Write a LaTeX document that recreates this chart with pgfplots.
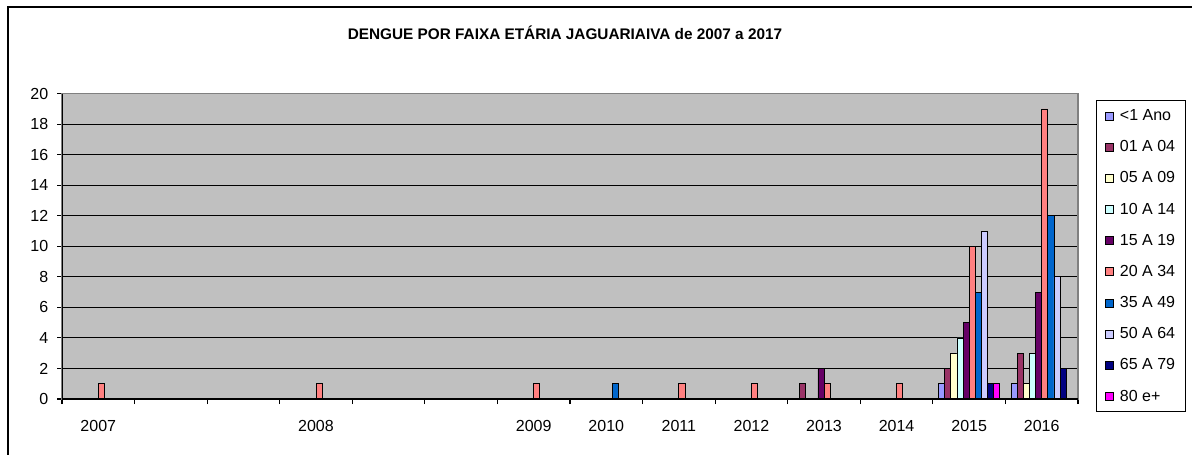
\documentclass[border=0pt]{standalone}
\usepackage{fontspec}
\setmainfont{Liberation Sans}
\usepackage{pgfplots}
\pgfplotsset{compat=1.18}

\definecolor{c0}{HTML}{9999FF}
\definecolor{c1}{HTML}{993366}
\definecolor{c2}{HTML}{FFFFCC}
\definecolor{c3}{HTML}{CCFFFF}
\definecolor{c4}{HTML}{660066}
\definecolor{c5}{HTML}{FF8080}
\definecolor{c6}{HTML}{0066CC}
\definecolor{c7}{HTML}{CCCCFF}
\definecolor{c8}{HTML}{000080}
\definecolor{c9}{HTML}{FF00FF}
\definecolor{plotbg}{HTML}{C0C0C0}

\begin{document}
\begin{tikzpicture}
\useasboundingbox (0,0) rectangle (894pt,340.5pt);
\draw[black, line width=1.3pt] (6pt,-20pt) rectangle (920pt,335.25pt);
\node[font=\bfseries\fontsize{11.5}{13}\selectfont] at (423.75pt,315.75pt)
  {DENGUE POR FAIXA ETÁRIA JAGUARIAIVA de 2007 a 2017};
\begin{axis}[
  at={(46.5pt,41.25pt)}, anchor=south west,
  scale only axis, width=762pt, height=229pt,
  xmin=-0.5, xmax=13.5, ymin=0, ymax=20,
  ytick={0,2,...,20},
  xtick={-0.5,0.5,...,13.5},
  x tick label as interval,
  xticklabels={2007,{},{},2008,{},{},2009,2010,2011,2012,2013,2014,2015,2016},
  ymajorgrids,
  major grid style={black, line width=0.8pt},
  axis background/.style={fill=plotbg},
  axis line style={gray, line width=0.8pt},
  tick pos=left, tick align=outside,
  major tick length=3.75pt,
  tick style={black, line width=0.8pt},
  tick label style={font=\fontsize{12}{14}\selectfont},
  yticklabel style={xshift=-3pt},
  xticklabel style={yshift=-9pt},
  /pgf/number format/assume math mode=true,
  ybar=0pt, bar width=0.084,
  every axis plot/.append style={draw=black, line width=0.6pt},
  legend style={at={(1.0177,0.978)}, anchor=north west, draw=black,
    line width=0.8pt, font=\fontsize{12}{14}\selectfont,
    row sep=9.5pt, column sep=3pt, inner xsep=6pt, inner ysep=4.5pt, cells={anchor=west}},
  legend image code/.code={\draw[#1, draw=black, line width=0.6pt] (0pt,-3pt) rectangle (6pt,3pt);},
]
\addplot[fill=c0] coordinates {(12,1)(13,1)};
\addlegendentry{<1 Ano}
\addplot[fill=c1] coordinates {(10,1)(12,2)(13,3)};
\addlegendentry{01 A 04}
\addplot[fill=c2] coordinates {(12,3)(13,1)};
\addlegendentry{05 A 09}
\addplot[fill=c3] coordinates {(12,4)(13,3)};
\addlegendentry{10 A 14}
\addplot[fill=c4] coordinates {(10,2)(12,5)(13,7)};
\addlegendentry{15 A 19}
\addplot[fill=c5] coordinates {(0,1)(3,1)(6,1)(8,1)(9,1)(10,1)(11,1)(12,10)(13,19)};
\addlegendentry{20 A 34}
\addplot[fill=c6] coordinates {(7,1)(12,7)(13,12)};
\addlegendentry{35 A 49}
\addplot[fill=c7] coordinates {(12,11)(13,8)};
\addlegendentry{50 A 64}
\addplot[fill=c8] coordinates {(12,1)(13,2)};
\addlegendentry{65 A 79}
\addplot[fill=c9] coordinates {(12,1)};
\addlegendentry{80 e+}
\draw[black, line width=0.9pt] (rel axis cs:0,1) -- (rel axis cs:0,0) -- (rel axis cs:1,0);
\end{axis}
\end{tikzpicture}
\end{document}
